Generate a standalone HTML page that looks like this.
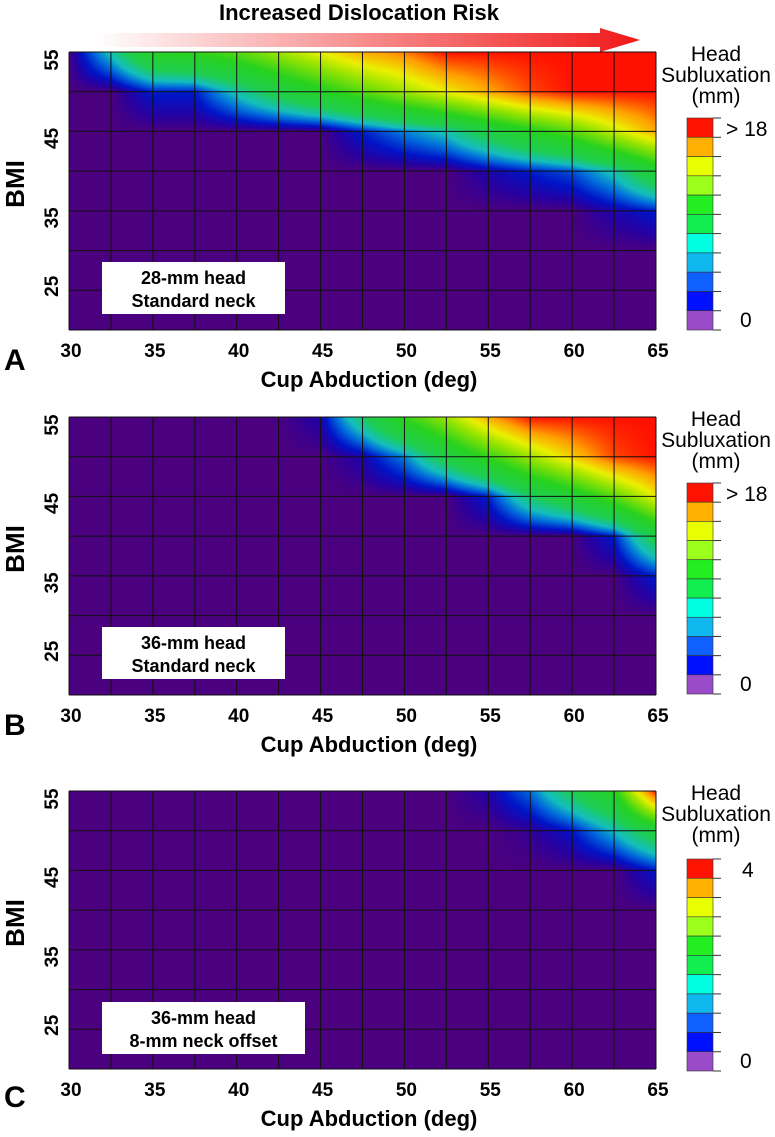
<!DOCTYPE html>
<html><head><meta charset="utf-8">
<style>
body{margin:0;background:#fff;}
#root{position:relative;width:775px;height:1137px;overflow:hidden;background:#fff;}
canvas{position:absolute;}
svg{position:absolute;left:0;top:0;}
text{font-family:"Liberation Sans",sans-serif;}
</style></head>
<body>
<div id="root">
<canvas id="cA"></canvas>
<canvas id="cB"></canvas>
<canvas id="cC"></canvas>
<svg id="svg" width="775" height="1137">
<defs><linearGradient id="arrGrad" x1="0" x2="1" y1="0" y2="0"><stop offset="0" stop-color="#ffffff"/><stop offset="1" stop-color="#f01818"/></linearGradient></defs>
<text x="359" y="20" text-anchor="middle" font-size="22" font-weight="bold">Increased Dislocation Risk</text>
<polygon points="95,33 600,33 600,28 640,40 600,52 600,47 95,47" fill="url(#arrGrad)"/>
</svg>
</div>
<script>
// Data
const abduction = [30,32.5,35,37.5,40,42.5,45,47.5,50,52.5,55,57.5,60,62.5,65];
const bmiRows = [55,50,45,40,35,30,25,20];
const xTicks = [30,35,40,45,50,55,60,65];
const yTicks = [55,45,35,25];
const subA = [
 [0,3,7,8,9,11,13,15,16,18,18,18,18,18,18],
 [0,0,1,1,3,5,7,9,11,13,15,17,18,18,18],
 [0,0,0,0,0,0,0,1,2,3,5,7,9,12,15],
 [0,0,0,0,0,0,0,0,0,0,0.5,1,1.5,3,6],
 [0,0,0,0,0,0,0,0,0,0,0,0,0,0.5,1],
 [0,0,0,0,0,0,0,0,0,0,0,0,0,0,0],
 [0,0,0,0,0,0,0,0,0,0,0,0,0,0,0],
 [0,0,0,0,0,0,0,0,0,0,0,0,0,0,0]];
const subB = [
 [0,0,0,0,0,0,0.5,4,8,11,15,18,18,18,18],
 [0,0,0,0,0,0,0,0.5,2,5,8,11,14,17,18],
 [0,0,0,0,0,0,0,0,0,0,1,4,6,9,13],
 [0,0,0,0,0,0,0,0,0,0,0,0,0,1,5],
 [0,0,0,0,0,0,0,0,0,0,0,0,0,0,1],
 [0,0,0,0,0,0,0,0,0,0,0,0,0,0,0],
 [0,0,0,0,0,0,0,0,0,0,0,0,0,0,0],
 [0,0,0,0,0,0,0,0,0,0,0,0,0,0,0]];
const subC = [
 [0,0,0,0,0,0,0,0,0,0,0.1,0.4,1,1.6,4],
 [0,0,0,0,0,0,0,0,0,0,0,0.05,0.2,0.6,1.2],
 [0,0,0,0,0,0,0,0,0,0,0,0,0,0,0.2],
 [0,0,0,0,0,0,0,0,0,0,0,0,0,0,0],
 [0,0,0,0,0,0,0,0,0,0,0,0,0,0,0],
 [0,0,0,0,0,0,0,0,0,0,0,0,0,0,0],
 [0,0,0,0,0,0,0,0,0,0,0,0,0,0,0],
 [0,0,0,0,0,0,0,0,0,0,0,0,0,0,0]];
const maxVals = [18,18,4];
const topLabels = ["> 18","> 18","4"];
const panelLetters = ["A","B","C"];
const boxLine1 = ["28-mm head","36-mm head","36-mm head"];
const boxLine2 = ["Standard neck","Standard neck","8-mm neck offset"];
const barColors = ["#ff1200","#ffb000","#e8ff00","#9cff1c","#22ee22","#10ee50","#00ffe0","#10b8f0","#1060ff","#0010ff","#9a4cc8"];

const panels = [
 {data:subA, top:52, cbTop:118, cbBot:330, boxY:262, boxW:183, cv:'cA'},
 {data:subB, top:417, cbTop:483, cbBot:694, boxY:627, boxW:183, cv:'cB'},
 {data:subC, top:791, cbTop:859, cbBot:1071, boxY:1002, boxW:203, cv:'cC'}];
const L=69, R=656, H=278;
const svg=document.getElementById('svg');
const NS='http://www.w3.org/2000/svg';
function mk(tag,attrs,parent){const e=document.createElementNS(NS,tag);for(const k in attrs)e.setAttribute(k,attrs[k]);(parent||svg).appendChild(e);return e;}

const cmap=[[0,[75,0,127]],[0.02,[40,0,160]],[0.05,[0,20,200]],[0.1,[0,110,220]],[0.15,[20,190,190]],[0.24,[30,205,80]],[0.42,[40,210,30]],[0.6,[150,228,0]],[0.72,[235,240,0]],[0.85,[255,160,0]],[1,[255,16,0]]];
function color(t){t=Math.max(0,Math.min(1,t));for(let i=1;i<cmap.length;i++){if(t<=cmap[i][0]){const a=cmap[i-1],b=cmap[i];const f=(t-a[0])/(b[0]-a[0]);return [0,1,2].map(k=>a[1][k]+(b[1][k]-a[1][k])*f);}}return cmap[cmap.length-1][1];}

panels.forEach((p,pi)=>{
 const xs=v=>L+(v-30)/35*(R-L);
 const ys=v=>p.top+(55-v)/35*H;
 const cv=document.getElementById(p.cv);
 cv.width=R-L;cv.height=H;cv.style.left=L+'px';cv.style.top=p.top+'px';
 const ctx=cv.getContext('2d');const img=ctx.createImageData(R-L,H);
 for(let py=0;py<H;py++){
  const bmi=55-(py+0.5)/H*35;
  const fy=(55-bmi)/5;const iy=Math.min(Math.floor(fy),bmiRows.length-2);const ty=fy-iy;
  for(let px=0;px<R-L;px++){
   const ab=30+(px+0.5)/(R-L)*35;
   const fx=(ab-30)/2.5;const ix=Math.min(Math.floor(fx),abduction.length-2);const tx=fx-ix;
   const d=p.data;
   const v=d[iy][ix]*(1-tx)*(1-ty)+d[iy][ix+1]*tx*(1-ty)+d[iy+1][ix]*(1-tx)*ty+d[iy+1][ix+1]*tx*ty;
   const c=color(v/maxVals[pi]);const o=(py*(R-L)+px)*4;
   img.data[o]=c[0];img.data[o+1]=c[1];img.data[o+2]=c[2];img.data[o+3]=255;
  }
 }
 ctx.putImageData(img,0,0);
 const g=mk('g',{});
 
 
 abduction.forEach(a=>{mk('line',{x1:xs(a),x2:xs(a),y1:p.top,y2:p.top+H,stroke:'#111','stroke-width':1},g);});
 bmiRows.forEach(b=>{mk('line',{x1:L,x2:R,y1:ys(b),y2:ys(b),stroke:'#111','stroke-width':1},g);});
 xTicks.forEach(t=>{const e=mk('text',{x:xs(t)+2,y:p.top+H+27,'text-anchor':'middle','font-size':19,'font-weight':'bold'});e.textContent=t;
  
  });
 yTicks.forEach(t=>{let yy=ys(t);if(t===55)yy+=8;if(t===25)yy-=4;if(t!==55&&t!==25)yy+=7;
  const e=mk('text',{x:0,y:0,transform:`translate(58,${yy}) rotate(-90)`,'text-anchor':'middle','font-size':19,'font-weight':'bold'});e.textContent=t;
  
  });
 const xt=mk('text',{x:369,y:p.top+H+57,'text-anchor':'middle','font-size':22,'font-weight':'bold'});xt.textContent='Cup Abduction (deg)';
 
 
 const yt=mk('text',{x:0,y:0,transform:`translate(24,${p.top+132}) rotate(-90)`,'text-anchor':'middle','font-size':26,'font-weight':'bold'});yt.textContent='BMI';
 
 
 const pl=mk('text',{x:4,y:p.top+H+40+(pi===2?-2:0),'font-size':30,'font-weight':'bold'});pl.textContent=panelLetters[pi];
 
 
 const bx=mk('rect',{x:102,y:p.boxY,width:p.boxW,height:52,fill:'#fff'});
 
 
 const t1=mk('text',{x:102+p.boxW/2,y:p.boxY+22,'text-anchor':'middle','font-size':18,'font-weight':'bold'});t1.textContent=boxLine1[pi];
 
 
 const t2=mk('text',{x:102+p.boxW/2,y:p.boxY+45,'text-anchor':'middle','font-size':18,'font-weight':'bold'});t2.textContent=boxLine2[pi];
 
 
 const cbH=(p.cbBot-p.cbTop)/barColors.length;
 barColors.forEach((c,i)=>{const r=mk('rect',{x:687,y:p.cbTop+i*cbH,width:26,height:cbH,fill:c,stroke:'#333','stroke-width':0.6});
  
  });
 for(let i=0;i<=barColors.length;i++){mk('line',{x1:713,x2:721,y1:p.cbTop+i*cbH,y2:p.cbTop+i*cbH,stroke:'#333','stroke-width':1});}
 const ctop=mk('text',{x:pi===2?742:726,y:p.cbTop+18,'font-size':21});ctop.textContent=topLabels[pi];
 
 
 const c0=mk('text',{x:740,y:p.cbBot-3,'font-size':21});c0.textContent='0';
 
 
 [['Head',p.top+9],['Subluxation',p.top+30],['(mm)',p.top+51]].forEach(([s,y])=>{const e=mk('text',{x:716,y:y,'text-anchor':'middle','font-size':21});e.textContent=s;
  
  });
});
</script>
</body></html>
